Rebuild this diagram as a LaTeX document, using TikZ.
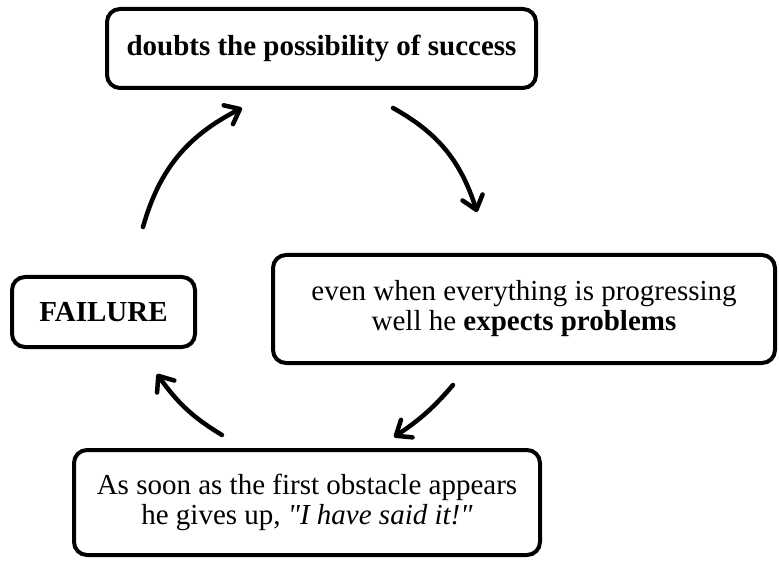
\documentclass[tikz,border=0pt]{standalone}
\usepackage{fontspec}
\setmainfont{Liberation Serif}
\usetikzlibrary{arrows.meta,bending}
\begin{document}
\begin{tikzpicture}[x=1pt,y=-1pt,
  box/.style={draw=black,line width=4pt,rounded corners=13pt,fill=white,
    align=center,inner sep=0pt,font=\fontsize{29}{30}\selectfont},
  flow/.style={line width=4.5pt,line cap=round,
    -{Straight Barb[length=13pt,width=21pt,round]}}]
  \useasboundingbox (0,0) rectangle (779,561);

  % the four stages of the cycle
  \node[box,minimum width=429pt,minimum height=79pt] (doubt) at (321.5,48.5)
    {\textbf{doubts the possibility of success}};
  \node[box,minimum width=502pt,minimum height=108pt] (expect) at (524,309)
    {even when everything is progressing\\well he \textbf{expects problems}};
  \node[box,minimum width=466pt,minimum height=105pt] (giveup) at (307,502.5)
    {As soon as the first obstacle appears\\he gives up,
     \textit{\textquotedbl I have said it!\textquotedbl}};
  \node[box,minimum width=183pt,minimum height=70pt] (fail) at (103.5,312)
    {\textbf{FAILURE}};

  % arrow ends between the stages
  \coordinate (a1) at (143,227);  \coordinate (b1) at (242,108);
  \coordinate (a2) at (393,108);  \coordinate (b2) at (477,212);
  \coordinate (a3) at (453,385);  \coordinate (b3) at (394,437);
  \coordinate (a4) at (222,435);  \coordinate (b4) at (157,374);

  \draw[flow] (a1) to[bend left=24] (b1);
  \draw[flow] (a2) to[bend left=22] (b2);
  \draw[flow] (a3) to[bend left=8] (b3);
  \draw[flow] (a4) to[bend left=12] (b4);
\end{tikzpicture}
\end{document}
